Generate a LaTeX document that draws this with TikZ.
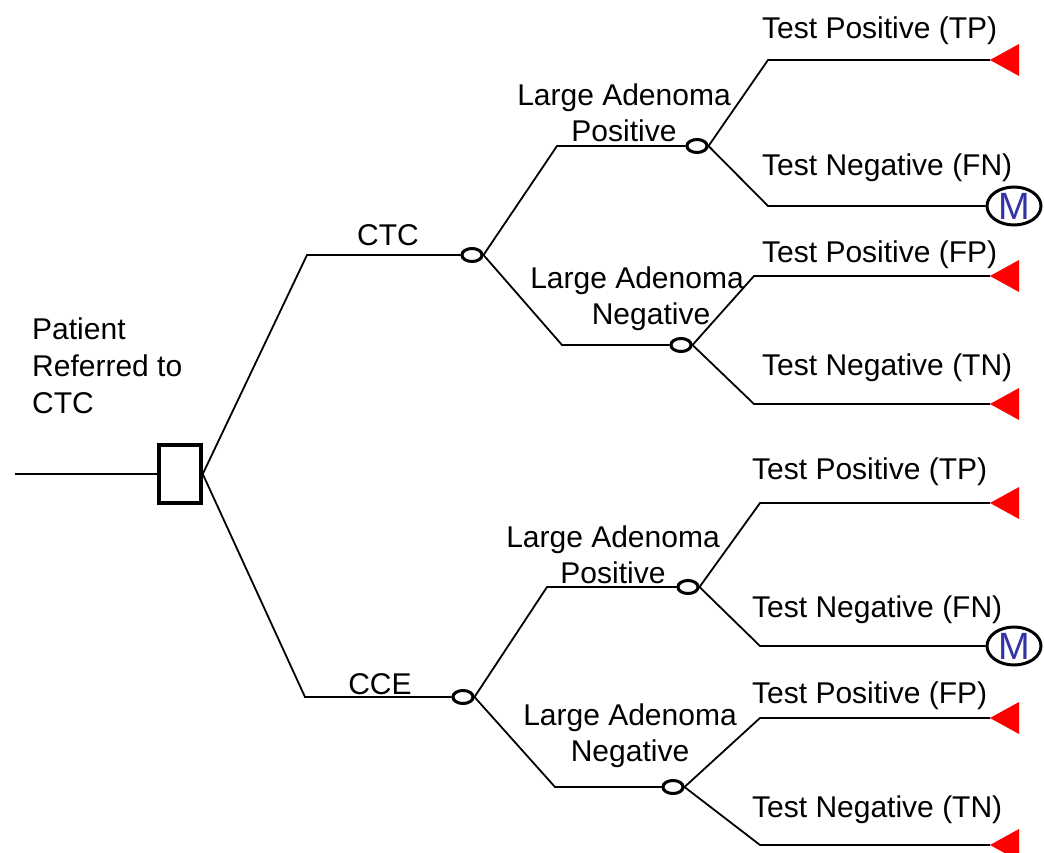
\documentclass[tikz,border=0pt]{standalone}
\usepackage{fontspec}
\setmainfont{Liberation Sans}
\usetikzlibrary{shapes.geometric}
\definecolor{mblue}{HTML}{3333A6}
\begin{document}
\begin{tikzpicture}[x=1pt,y=-1pt,
  every node/.style={font=\fontsize{30}{36}\selectfont, inner sep=0pt},
  conn/.style={line width=1.8pt},
  decbox/.style={draw, line width=3.5pt, minimum width=42pt, minimum height=58pt, fill=white},
  chance/.style={draw, ellipse, line width=3pt, minimum width=20pt, minimum height=12pt, fill=white},
  mnode/.style={draw, ellipse, line width=3pt, minimum width=54pt, minimum height=38pt, fill=white, text=mblue, font=\fontsize{38}{40}\selectfont},
  lab/.style={anchor=base west},
  tri/.style={fill=red}
]
\useasboundingbox (0,0) rectangle (1044,853);

% nodes
\coordinate (in) at (15,474);
\node[decbox] (sq) at (180,474) {};
\node[chance] (ctc) at (472,255) {};
\node[chance] (cce) at (463,697) {};
\node[chance] (lap1) at (697,146) {};
\node[chance] (lan1) at (681,345) {};
\node[chance] (lap2) at (688,587) {};
\node[chance] (lan2) at (673,787) {};
\node[mnode] (m1) at (1014,206) {M};
\node[mnode] (m2) at (1014,646) {M};
\coordinate (t1) at (990,60);
\coordinate (t3) at (990,276);
\coordinate (t4) at (990,404);
\coordinate (t5) at (990,503);
\coordinate (t7) at (990,718);
\coordinate (t8) at (990,845);

% connectors
\draw[conn] (in) -- (sq.west);
\draw[conn] (sq.east) -- (307,255) -- (ctc.west);
\draw[conn] (sq.east) -- (305,697) -- (cce.west);
\draw[conn] (ctc.east) -- (557,146) -- (lap1.west);
\draw[conn] (ctc.east) -- (562,345) -- (lan1.west);
\draw[conn] (cce.east) -- (547,587) -- (lap2.west);
\draw[conn] (cce.east) -- (555,787) -- (lan2.west);
\draw[conn] (lap1.east) -- (768,60) -- (t1);
\draw[conn] (lap1.east) -- (768,206) -- (m1.west);
\draw[conn] (lan1.east) -- (754,276) -- (t3);
\draw[conn] (lan1.east) -- (754,404) -- (t4);
\draw[conn] (lap2.east) -- (760,503) -- (t5);
\draw[conn] (lap2.east) -- (760,646) -- (m2.west);
\draw[conn] (lan2.east) -- (760,718) -- (t7);
\draw[conn] (lan2.east) -- (760,845) -- (t8);

% redraw chance nodes on top
\foreach \n in {ctc,cce,lap1,lan1,lap2,lan2} {\draw[line width=3pt, fill=white] (\n.center) ellipse [x radius=10pt, y radius=6.5pt];}

% terminal triangles
\foreach \t in {t1,t3,t4,t5,t7,t8} {\fill[tri] (\t) -- ++(29,-16) -- ++(0,32) -- cycle;}

% labels
\node[anchor=west, align=left, font=\fontsize{30}{37}\selectfont] (pat) at (32,366) {Patient\\Referred to\\CTC};
\node[anchor=base] (lctc) at (388,246) {CTC};
\node[anchor=base] (lcce) at (380,694) {CCE};
\node[align=center] (lp1) at (624,113) {Large Adenoma\\Positive};
\node[anchor=base] (ln1a) at (637,288) {Large Adenoma};
\node[anchor=base] (ln1b) at (651,324) {Negative};
\node[align=center] (lp2) at (613,555) {Large Adenoma\\Positive};
\node[align=center] (ln2) at (630,736) {Large Adenoma\\Negative};
\node[lab] (a1) at (762,39) {Test Positive\ (TP)};
\node[lab] (a2) at (762,176) {Test Negative (FN)};
\node[lab] (a3) at (762,262) {Test Positive\ (FP)};
\node[lab] (a4) at (762,375) {Test Negative (TN)};
\node[lab] (a5) at (752,479) {Test Positive (TP)};
\node[lab] (a6) at (752,617) {Test Negative (FN)};
\node[lab] (a7) at (752,703) {Test Positive (FP)};
\node[lab] (a8) at (752,817) {Test Negative (TN)};
\end{tikzpicture}
\end{document}
